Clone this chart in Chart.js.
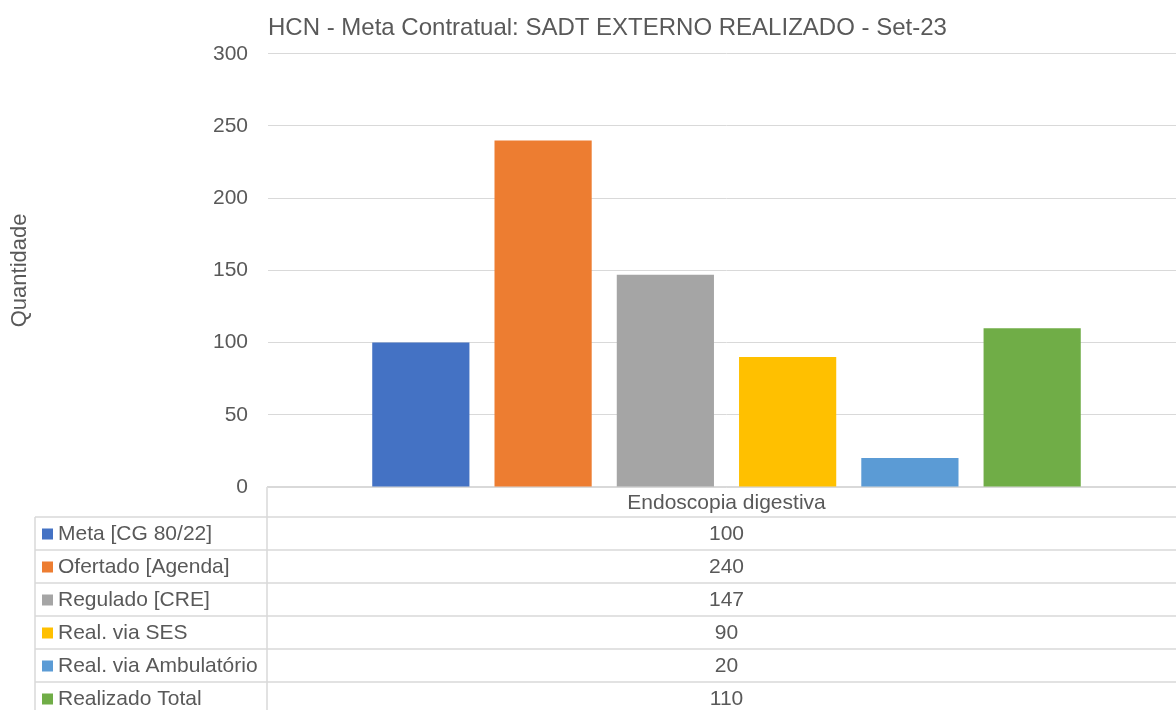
<!DOCTYPE html>
<html>
<head>
<meta charset="utf-8">
<script src="https://cdn.jsdelivr.net/npm/chart.js@4"></script>
<style>
  html, body { margin: 0; padding: 0; background: #fff; overflow: hidden; }
  #wrap { width: 1185px; height: 710px; }
</style>
</head>
<body>
<div id="wrap"><canvas id="myChart"></canvas></div>
<script>
const categorias = ['Endoscopia digestiva'];
const series = ['Meta [CG 80/22]', 'Ofertado [Agenda]', 'Regulado [CRE]', 'Real. via SES', 'Real. via Ambulatório', 'Realizado Total'];
const valores = [100, 240, 147, 90, 20, 110];
const cores = ['#4472C4', '#ED7D31', '#A5A5A5', '#FFC000', '#5B9BD5', '#70AD47'];
const ticksY = [0, 50, 100, 150, 200, 250, 300];

const corTexto = '#595959';
const corLinha = '#d9d9d9';
const fonte = '"Liberation Sans", Arial, sans-serif';

// tabela de dados embaixo do grafico (estilo Excel)
const tabelaPlugin = {
    id: 'tabela',
    afterDraw(chart) {
        const ctx = chart.ctx;
        const ca = chart.chartArea;
        const topo = ca.bottom;
        const cab = 30;
        const linha = 33;
        const esq = 35;
        const h = chart.height;
        ctx.save();
        ctx.strokeStyle = corLinha;
        ctx.lineWidth = 1.5;
        ctx.beginPath();
        ctx.moveTo(ca.left - 1, topo);
        ctx.lineTo(ca.left - 1, h);
        ctx.moveTo(esq, topo + cab);
        ctx.lineTo(esq, h);
        for (let i = 0; i < series.length; i++) {
            const y = topo + cab + i * linha;
            ctx.moveTo(esq, y);
            ctx.lineTo(chart.width, y);
        }
        ctx.stroke();

        ctx.font = '21px ' + fonte;
        ctx.textBaseline = 'middle';
        const xCentro = chart.scales.x.getPixelForValue(0);
        chart.data.datasets.forEach((ds, i) => {
            const yc = topo + cab + i * linha + linha / 2 + 1;
            ctx.fillStyle = ds.backgroundColor;
            ctx.fillRect(42, yc - 6, 11, 11);
            ctx.fillStyle = corTexto;
            ctx.textAlign = 'left';
            ctx.fillText(ds.label, 58, yc);
            ctx.textAlign = 'center';
            ctx.fillText(String(ds.data[0]), xCentro, yc);
        });
        ctx.restore();
    }
};

const ctx = document.getElementById('myChart');

new Chart(ctx, {
    type: 'bar',
    data: {
        labels: categorias,
        datasets: series.map((nome, i) => ({
            label: nome,
            data: [valores[i]],
            backgroundColor: cores[i],
            borderWidth: 0
        }))
    },
    options: {
        responsive: true,
        maintainAspectRatio: false,
        animation: false,
        categoryPercentage: 0.80,
        barPercentage: 0.795,
        layout: { padding: { bottom: 193 } },
        plugins: {
            legend: { display: false },
            tooltip: { enabled: false },
            title: {
                display: true,
                text: 'HCN - Meta Contratual: SADT EXTERNO REALIZADO - Set-23',
                align: 'start',
                fullSize: false,
                color: corTexto,
                font: { family: fonte, size: 24, weight: 'normal' },
                padding: { top: 14, bottom: 11 }
            }
        },
        scales: {
            x: {
                afterFit(scale) { scale.height = 30; },
                grid: { display: false, drawTicks: false },
                border: { display: true, color: corLinha, width: 1.5 },
                ticks: {
                    color: corTexto,
                    padding: 4,
                    font: { family: fonte, size: 21 }
                }
            },
            y: {
                min: 0,
                max: 300,
                afterFit(scale) { scale.width = 268; },
                afterBuildTicks(scale) { scale.ticks = ticksY.map(v => ({ value: v })); },
                grid: { color: corLinha, lineWidth: 1, drawTicks: false },
                border: { display: false },
                ticks: {
                    color: corTexto,
                    padding: 20,
                    font: { family: fonte, size: 21 }
                },
                title: {
                    display: true,
                    text: 'Quantidade',
                    color: corTexto,
                    font: { family: fonte, size: 22 },
                    padding: { top: 7, bottom: 0 }
                }
            }
        }
    },
    plugins: [tabelaPlugin]
});
</script>
</body>
</html>
